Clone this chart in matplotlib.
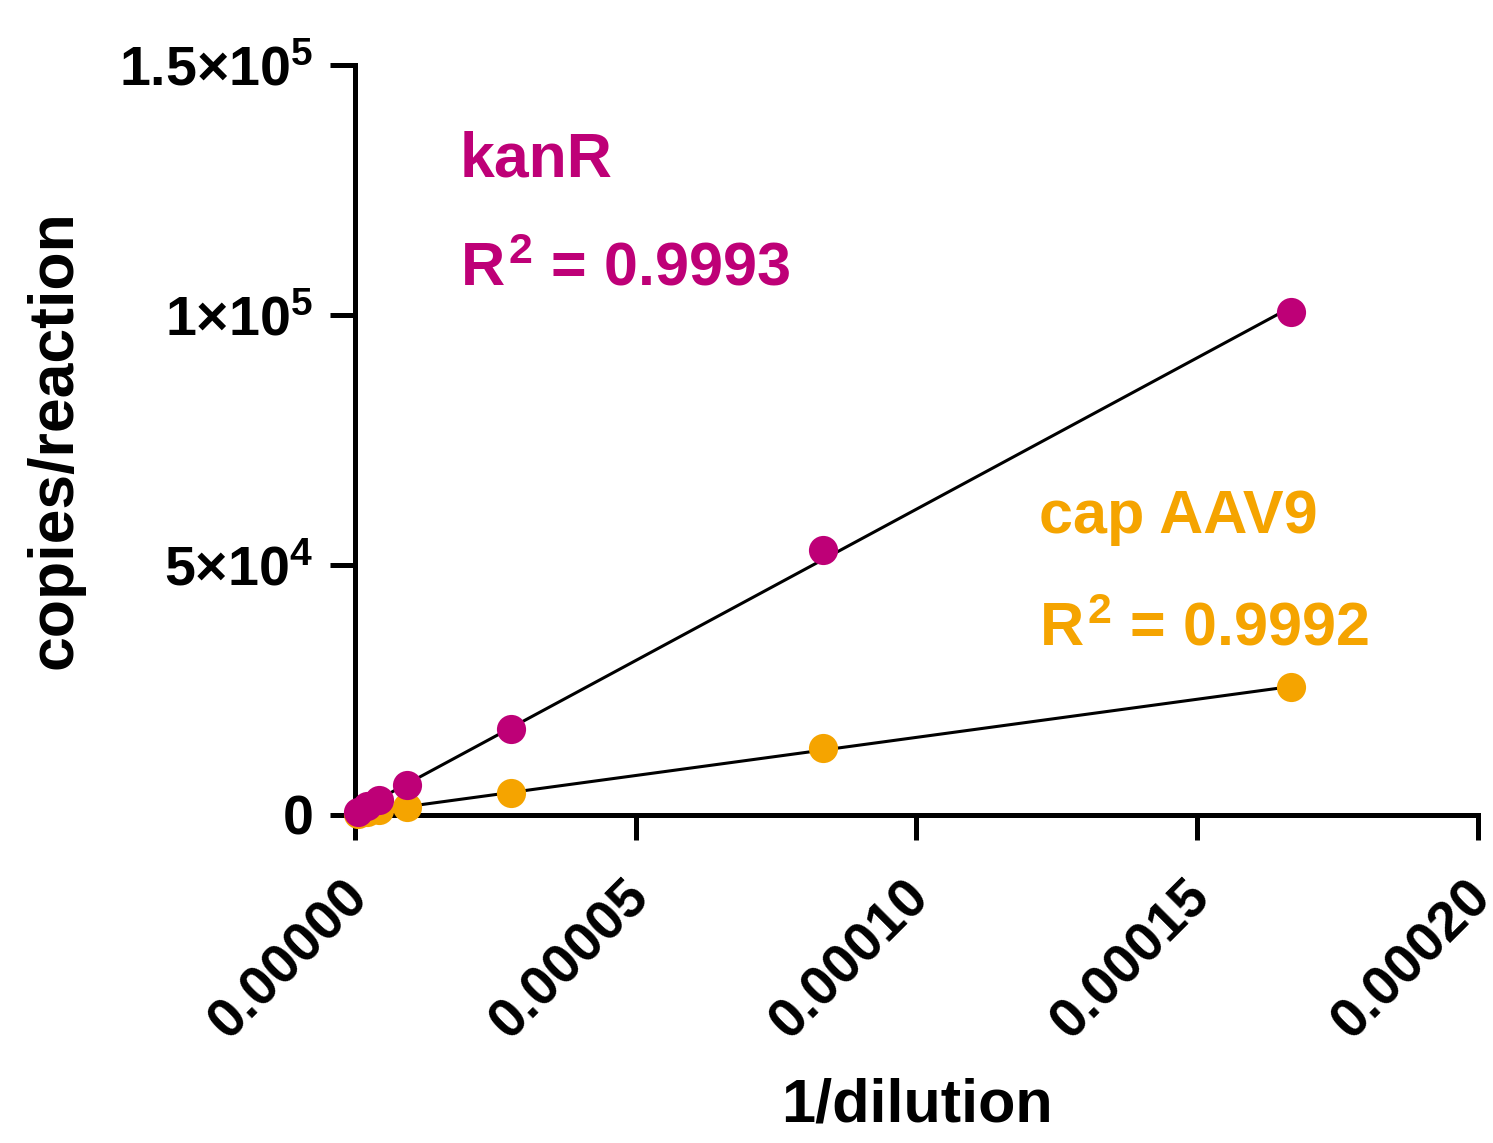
import numpy as np
import matplotlib.pyplot as plt
from matplotlib.ticker import FuncFormatter
from matplotlib.transforms import ScaledTranslation

plt.rcParams['font.family'] = ['Liberation Sans', 'DejaVu Sans']
plt.rcParams['font.weight'] = 'bold'
plt.rcParams['mathtext.fontset'] = 'custom'
plt.rcParams['mathtext.rm'] = 'Liberation Sans:bold'
plt.rcParams['mathtext.bf'] = 'Liberation Sans:bold'
plt.rcParams['mathtext.it'] = 'Liberation Sans:bold'

# 1/dilution values
inv_dil = [0.0000005, 0.0000022, 0.0000043, 0.0000092, 0.0000277, 0.0000833, 0.0001667]
kanr = [600, 1800, 3000, 6000, 17200, 53100, 100600]
cap = [200, 600, 1000, 1600, 4400, 13400, 25500]

kanr_color = '#BE0077'
cap_color = '#F5A400'

fig = plt.figure(figsize=(14.93, 11.43), dpi=100)
ax = fig.add_axes([0.2378, 0.287, 0.9899 - 0.2378, 0.943 - 0.287])

x = np.array(inv_dil)
xs = np.linspace(0, x.max(), 10)
for y, c in [(cap, cap_color), (kanr, kanr_color)]:
    slope, icpt = np.polyfit(x, y, 1)
    ax.plot(xs, slope * xs + icpt, color='black', lw=2.2, zorder=2)
for y, c in [(cap, cap_color), (kanr, kanr_color)]:
    ax.plot(x, y, 'o', color=c, ms=21, mec='none', zorder=3, clip_on=False)

ax.set_xlim(0, 0.0002)
ax.set_ylim(0, 150000)
ax.set_xticks([0, 0.00005, 0.0001, 0.00015, 0.0002])
ax.xaxis.set_major_formatter(FuncFormatter(lambda v, p: f'{v:.5f}'))
ax.set_yticks([0, 50000, 100000, 150000])
ax.set_yticklabels(['0', r'$5{\times}10^4$', r'$1{\times}10^5$', r'$1.5{\times}10^5$'])

for s in ['top', 'right']:
    ax.spines[s].set_visible(False)
for s in ['left', 'bottom']:
    ax.spines[s].set_linewidth(3.6)
ax.tick_params(width=3.6, length=18, labelsize=40)
ax.tick_params(axis='y', pad=12)
ax.tick_params(axis='x', pad=10)
plt.setp(ax.get_xticklabels(), rotation=45, ha='right', va='top', rotation_mode='anchor')
# nudge rotated x labels down-left
shift = ScaledTranslation(-0.13, -0.17, fig.dpi_scale_trans)
for lab in ax.get_xticklabels():
    lab.set_transform(lab.get_transform() + shift)

ax.set_xlabel('1/dilution', fontsize=44, fontweight='bold')
ax.xaxis.set_label_coords(0.5, -0.35)
ax.set_ylabel('copies/reaction', fontsize=45, fontweight='bold', va='center')
ax.yaxis.set_label_coords(-0.267, 0.5)

ax.text(0.0000187, 131000, 'kanR', color=kanr_color, fontsize=45, fontweight='bold', va='center')
ax.text(0.0000187, 109000, r'$R^2$ = 0.9993', color=kanr_color, fontsize=44, fontweight='bold', va='center')
ax.text(0.0001219, 59500, 'cap AAV9', color=cap_color, fontsize=44, fontweight='bold', va='center')
ax.text(0.0001219, 37000, r'$R^2$ = 0.9992', color=cap_color, fontsize=44, fontweight='bold', va='center')

fig.savefig('out.png', dpi=100)
